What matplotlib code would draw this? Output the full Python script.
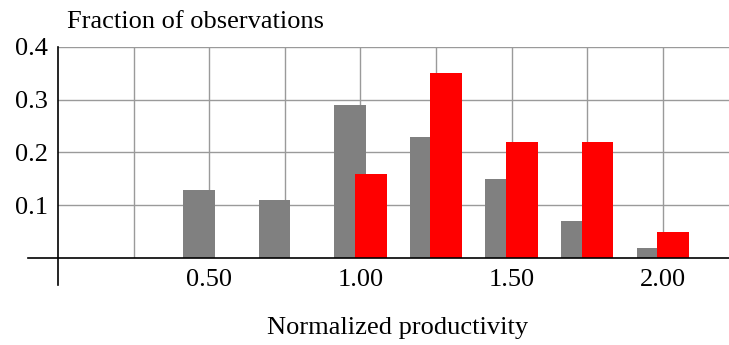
import matplotlib
matplotlib.use("Agg")
import matplotlib.pyplot as plt
import numpy as np

# data
positions = [0.50, 0.75, 1.00, 1.25, 1.50, 1.75, 2.00]
gray_vals = [0.13, 0.11, 0.29, 0.23, 0.15, 0.07, 0.02]
red_vals = [0.00, 0.00, 0.16, 0.35, 0.22, 0.22, 0.05]
x_labels = ["0.50", "1.00", "1.50", "2.00"]
y_ticks = [0.1, 0.2, 0.3, 0.4]

GRAY = "#808080"
RED = "#ff0000"
GRID = "#9a9a9a"

plt.rcParams["font.family"] = ["Liberation Serif", "DejaVu Serif"]
plt.rcParams["font.size"] = 19

fig = plt.figure(figsize=(7.29, 3.45), dpi=100)
ax = fig.add_axes([0.0796, 0.2513, 0.9204, 0.6134])

xlim = (0.0, 2.219)
ylim = (0.0, 0.4)
ax.set_xlim(*xlim)
ax.set_ylim(*ylim)

width = 0.105
shift = 0.034
pos = np.array(positions)
ax.bar(pos - shift, gray_vals, width=width, color=GRAY, zorder=2)
red_mask = np.array(red_vals) > 0
ax.bar(pos[red_mask] + shift, np.array(red_vals)[red_mask], width=width, color=RED, zorder=3)

# grid
for gx in np.arange(0.25, 2.01, 0.25):
    ax.axvline(gx, color=GRID, lw=1.0, zorder=1)
for gy in y_ticks:
    ax.axhline(gy, color=GRID, lw=1.0, zorder=1)

for s in ax.spines.values():
    s.set_visible(False)

# axis lines extended beyond the plot area
ax.plot([-0.10, xlim[1]], [0, 0], color="black", lw=1.2, clip_on=False, zorder=4)
ax.plot([0, 0], [-0.05, 0.4], color="black", lw=1.2, clip_on=False, zorder=4)

ax.set_xticks([0.5, 1.0, 1.5, 2.0])
ax.set_xticklabels(x_labels)
ax.set_yticks(y_ticks)
ax.set_yticklabels([f"{v:.1f}" for v in y_ticks])
ax.tick_params(axis="both", length=0)
ax.tick_params(axis="x", pad=8)
ax.tick_params(axis="y", pad=7)

fig.text(0.545, 0.05, "Normalized productivity", ha="center", va="center")
fig.text(0.092, 0.937, "Fraction of observations", ha="left", va="center")

fig.savefig("out.png", dpi=100)
